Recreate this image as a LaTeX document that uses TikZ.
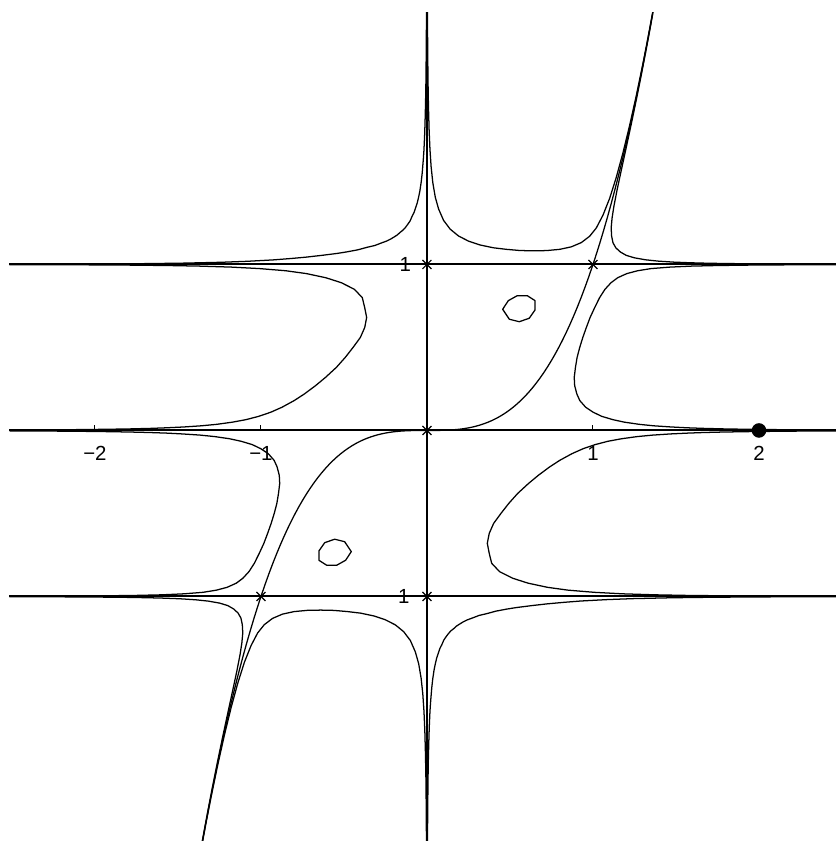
\documentclass[tikz,border=0pt]{standalone}
\usepackage{fontspec}
\setmainfont{Liberation Sans}
\usetikzlibrary{shapes.misc}

\newcount\bisecti
% point of x y (y^2-1)(y-x^3) = #5 on the segment (#1,#2)--(#3,#4), result in \lpx,\lpy
\newcommand\levelpt[5]{%
  \def\bsA{0}\def\bsB{1}%
  \pgfmathsetmacro\bsFa{(#1)*(#2)*((#2)*(#2)-1)*((#2)-(#1)*(#1)*(#1))-(#5)}%
  \bisecti=0\relax
  \loop
    \pgfmathsetmacro\bsM{(\bsA+\bsB)/2}%
    \pgfmathsetmacro\lpx{(#1)+\bsM*((#3)-(#1))}%
    \pgfmathsetmacro\lpy{(#2)+\bsM*((#4)-(#2))}%
    \pgfmathsetmacro\bsFm{(\lpx)*(\lpy)*((\lpy)*(\lpy)-1)*((\lpy)-(\lpx)*(\lpx)*(\lpx))-(#5)}%
    \pgfmathtruncatemacro\bsSame{(\bsFa)*(\bsFm)>0}%
    \ifnum\bsSame=1 \let\bsA\bsM\let\bsFa\bsFm\else\let\bsB\bsM\fi
    \advance\bisecti by 1\relax
  \ifnum\bisecti<16 \repeat}
\newcommand\drawpts[1]{\edef\curvecmd{\noexpand\draw[curve] plot coordinates {#1};}\curvecmd}
\def\ylist{0.0018,0.0024,0.0032,0.0042,0.0055,0.0072,0.0095,0.0125,0.016,0.021,0.028,0.037,0.05,0.065,0.085,0.11,0.14,0.18,0.22,0.27,0.32,0.38,0.44,0.5,0.56,0.62,0.68,0.74,0.8,0.85,0.89,0.92,0.945,0.962,0.975,0.984,0.99,0.9935,0.996,0.9975,0.9985,0.999}

\begin{document}
\begin{tikzpicture}[x=3cm,y=3cm,
  curve/.style={line width=0.65pt,line join=round},
  axisline/.style={line width=1pt},
  crossmark/.style={cross out,draw,line width=0.6pt,minimum size=4pt,inner sep=0pt},
  lbl/.style={font=\fontsize{10.5}{12}\selectfont,inner sep=0pt}]
  \useasboundingbox (-2.572,-2.473) rectangle (2.458,2.593);
  \gdef\ptsTL{}\gdef\ptsTM{}\gdef\ptsTR{}\gdef\ptsRC{}\gdef\ptsLC{}
  \foreach \a in {90.02,90.05,90.1,90.2,90.35,90.5,90.75,91,91.5,92,93,94,95.5,97,99,101,104,107,111,115,120,125,130,135,140,145,150,155,160,164,168,171,173,175,176.5,177.5,178.3,179,179.4,179.7,179.85,179.93,179.97,179.985}{
    \pgfmathsetmacro\xe{3*cos(\a)}
    \pgfmathsetmacro\ye{1+3*sin(\a)}
    \levelpt{0}{1}{\xe}{\ye}{-0.1}
    \xdef\ptsTL{\ptsTL (\lpx,\lpy)}
  }
  \foreach \x in {0.001,0.0015,0.0022,0.003,0.0045,0.0065,0.009,0.013,0.018,0.025,0.035,0.05,0.07,0.1,0.14,0.19,0.25,0.32,0.4,0.48,0.56,0.64,0.72,0.8,0.87,0.93,0.98,1.02,1.06,1.1,1.14,1.18,1.22,1.26,1.3,1.33,1.36,1.38}{
    \pgfmathsetmacro\ys{max(1,\x*\x*\x)}
    \levelpt{\x}{\ys}{\x}{\ys+3}{0.1}
    \xdef\ptsTM{\ptsTM (\lpx,\lpy)}
  }
  \foreach \y in {1.0008,1.001,1.0013,1.0017,1.0022,1.003,1.004,1.0055,1.0075,1.01,1.014,1.02,1.028,1.04,1.055,1.075,1.1,1.13,1.17,1.22,1.28,1.35,1.45,1.55,1.7,1.85,2,2.15,2.3,2.45,2.6}{
    \pgfmathsetmacro\xs{\y^(1/3)}
    \levelpt{\xs}{\y}{\xs+3}{\y}{-0.1}
    \xdef\ptsTR{\ptsTR (\lpx,\lpy)}
  }
  \foreach \y in \ylist{
    \pgfmathsetmacro\xs{\y^(1/3)}
    \levelpt{\xs}{\y}{\xs+3}{\y}{0.1}
    \xdef\ptsRC{\ptsRC (\lpx,\lpy)}
    \levelpt{0}{\y}{-3}{\y}{0.1}
    \xdef\ptsLC{\ptsLC (\lpx,\lpy)}
  }
  \begin{scope}
    \clip (-2.515,-2.515) rectangle (2.515,2.515);
    \foreach \r in {0,180}{
      \begin{scope}[rotate=\r]
        \drawpts{\ptsTL}
        \drawpts{\ptsTM}
        \drawpts{\ptsTR}
        \drawpts{\ptsRC}
        \drawpts{\ptsLC}
        \draw[curve] (0.456,0.730) -- (0.490,0.782) -- (0.544,0.812) -- (0.604,0.812) -- (0.651,0.782)
          -- (0.651,0.726) -- (0.616,0.676) -- (0.556,0.655) -- (0.496,0.670) -- cycle;
      \end{scope}
    }
    \draw[curve] plot[domain=-1.36:1.36,samples=121] (\x,{\x*\x*\x});
  \end{scope}
  \foreach \y in {-1,0,1}
    \draw[axisline] (-2.515,\y) -- (2.515,\y);
  \draw[axisline] (0,-2.515) -- (0,2.515);
  \foreach \t in {-2,-1,1,2}
    \draw[line width=0.5pt] (\t,0) -- (\t,0.03);
  \node[crossmark] (c01) at (0,1) {};
  \node[crossmark] (c00) at (0,0) {};
  \node[crossmark] (c0m) at (0,-1) {};
  \node[crossmark] (c11) at (1,1) {};
  \node[crossmark] (cmm) at (-1,-1) {};
  \node[circle,fill,minimum size=7.5pt,inner sep=0pt] (p20) at (2,0) {};
  \node[lbl] (xm2) at (-2,-0.138) {−2};
  \node[lbl] (xm1) at (-1,-0.138) {−1};
  \node[lbl] (xp1) at (1,-0.138) {1};
  \node[lbl] (xp2) at (2,-0.138) {2};
  \node[lbl] (yp1) at (-0.13,1) {1};
  \node[lbl] (ym1) at (-0.175,-1) {−1};
\end{tikzpicture}
\end{document}
